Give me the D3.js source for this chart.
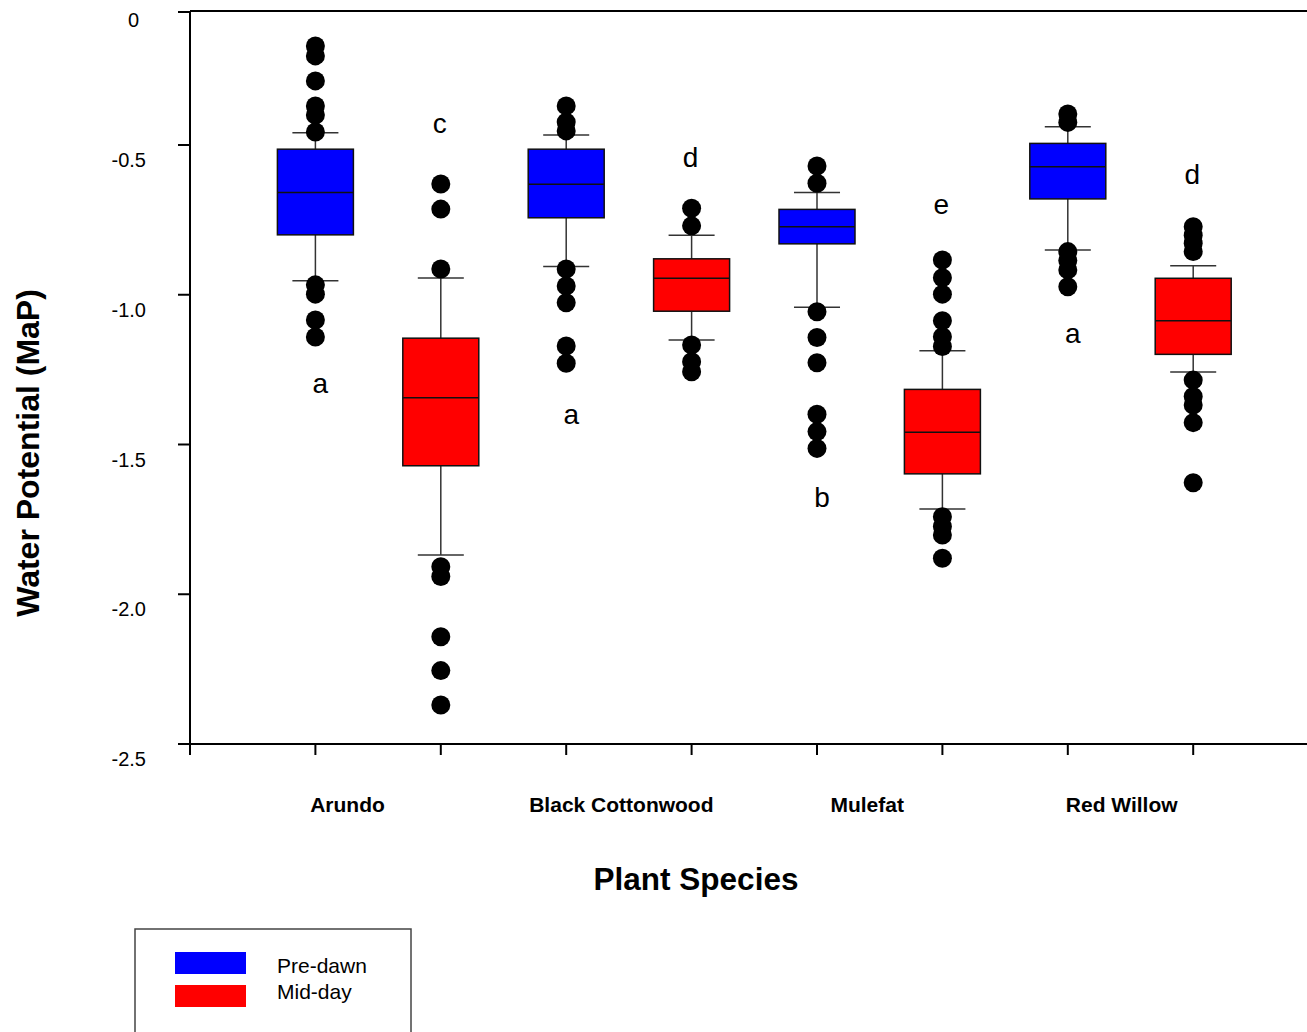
<!DOCTYPE html>
<html>
<head>
<meta charset="utf-8">
<script src="https://cdn.jsdelivr.net/npm/d3@7"></script>
<style>
  html, body { margin: 0; padding: 0; background: #fff; }
  svg { display: block; font-family: "Liberation Sans", Arial, sans-serif; }
</style>
</head>
<body>
<svg id="chart" width="1307" height="1032"></svg>
<script>
// Plant species and sampling periods
const species = ["Arundo", "Black Cottonwood", "Mulefat", "Red Willow"];
const periods = ["Pre-dawn", "Mid-day"];
const periodColors = ["#0000ff", "#ff0000"];

// Box statistics, one entry per box: species x period (pre-dawn, mid-day)
const upperWhisker = [-0.454, -0.944, -0.462, -0.801, -0.659, -1.187, -0.431, -0.903];
const q3Values     = [-0.514, -1.145, -0.514, -0.880, -0.715, -1.316, -0.494, -0.945];
const medianValues = [-0.659, -1.344, -0.631, -0.945, -0.773, -1.459, -0.573, -1.087];
const q1Values     = [-0.800, -1.571, -0.743, -1.055, -0.830, -1.598, -0.680, -1.199];
const lowerWhisker = [-0.953, -1.869, -0.906, -1.151, -1.042, -1.715, -0.851, -1.258];

// Outlying observations per box
const outliers = [
  [-0.128, -0.165, -0.259, -0.353, -0.387, -0.451, -0.967, -0.998, -1.084, -1.141],
  [-0.630, -0.714, -0.914, -1.908, -1.941, -2.142, -2.255, -2.370],
  [-0.353, -0.414, -0.447, -0.914, -0.971, -1.027, -1.171, -1.229],
  [-0.711, -0.770, -1.168, -1.224, -1.257],
  [-0.570, -0.628, -1.057, -1.143, -1.227, -1.399, -1.457, -1.513],
  [-0.884, -0.943, -0.998, -1.087, -1.140, -1.173, -1.741, -1.774, -1.802, -1.880],
  [-0.383, -0.415, -0.856, -0.886, -0.917, -0.973],
  [-0.773, -0.801, -0.828, -0.856, -1.285, -1.340, -1.368, -1.427, -1.628]
];

// Significance letters and the value each one sits at
const groupLetters = ["a", "c", "a", "d", "b", "e", "a", "d"];
const letterValues = [-1.328, -0.455, -1.432, -0.573, -1.709, -0.730, -1.161, -0.630];

// Axis ticks
const yTicks = [0, -0.5, -1.0, -1.5, -2.0, -2.5];
const yTickLabels = ["0", "-0.5", "-1.0", "-1.5", "-2.0", "-2.5"];
const xTicks = [0, 1, 2, 3, 4, 5, 6, 7, 8];
const speciesLabelPos = [1.256, 3.44, 5.40, 7.43];

const svg = d3.select("#chart");

// Scales: one x unit per box, y in MPa (top segment of the axis is compressed)
const x = d3.scaleLinear().domain([0, 9]).range([190, 1318.6]);
const y = d3.scaleLinear().domain([0, -0.5, -2.5]).range([12, 145, 744]);

const boxW = x(0.606) - x(0);
const capW = x(0.367) - x(0);

const boxes = d3.range(8).map(i => ({
  pos: i + 1,
  color: periodColors[i % 2],
  lo: lowerWhisker[i], q1: q1Values[i], med: medianValues[i],
  q3: q3Values[i], hi: upperWhisker[i], out: outliers[i],
  letter: groupLetters[i], letterY: letterValues[i]
}));

// Whiskers
const g = svg.append("g");
boxes.forEach(b => {
  const cx = x(b.pos);
  const wg = g.append("g").attr("stroke", "#333").attr("stroke-width", 1.5);
  wg.append("line").attr("x1", cx).attr("x2", cx).attr("y1", y(b.hi)).attr("y2", y(b.q3));
  wg.append("line").attr("x1", cx).attr("x2", cx).attr("y1", y(b.q1)).attr("y2", y(b.lo));
  wg.append("line").attr("x1", cx - capW / 2).attr("x2", cx + capW / 2).attr("y1", y(b.hi)).attr("y2", y(b.hi));
  wg.append("line").attr("x1", cx - capW / 2).attr("x2", cx + capW / 2).attr("y1", y(b.lo)).attr("y2", y(b.lo));
});

// Boxes with median lines
g.selectAll("rect.box").data(boxes).join("rect")
  .attr("class", "box")
  .attr("x", d => x(d.pos) - boxW / 2)
  .attr("y", d => y(d.q3))
  .attr("width", boxW)
  .attr("height", d => y(d.q1) - y(d.q3))
  .attr("fill", d => d.color)
  .attr("stroke", "#111")
  .attr("stroke-width", 1.5);

g.selectAll("line.median").data(boxes).join("line")
  .attr("class", "median")
  .attr("x1", d => x(d.pos) - boxW / 2)
  .attr("x2", d => x(d.pos) + boxW / 2)
  .attr("y1", d => y(d.med))
  .attr("y2", d => y(d.med))
  .attr("stroke", "#111")
  .attr("stroke-width", 1.5);

// Outlier dots
const dots = boxes.flatMap(b => b.out.map(v => ({ pos: b.pos, v })));
g.selectAll("circle").data(dots).join("circle")
  .attr("cx", d => x(d.pos))
  .attr("cy", d => y(d.v))
  .attr("r", 9.5)
  .attr("fill", "#000");

// Group letters
g.selectAll("text.letter").data(boxes).join("text")
  .attr("class", "letter")
  .attr("x", d => x(d.pos) + (d.pos % 2 === 1 ? 5 : -1))
  .attr("y", d => y(d.letterY))
  .attr("text-anchor", "middle")
  .attr("font-size", 28)
  .attr("fill", "#000")
  .text(d => d.letter);

// Frame: left axis, top border, bottom axis
const axisG = svg.append("g").attr("stroke", "#000").attr("stroke-width", 2).attr("fill", "none");
axisG.append("line").attr("x1", x(0)).attr("x2", x(0)).attr("y1", y(0) - 1).attr("y2", y(-2.5));
axisG.append("line").attr("x1", x(0)).attr("x2", x(9)).attr("y1", y(0) - 1).attr("y2", y(0) - 1);
axisG.append("line").attr("x1", x(0) - 12).attr("x2", x(9)).attr("y1", y(-2.5)).attr("y2", y(-2.5));

// Y ticks and labels
axisG.selectAll("line.ytick").data(yTicks).join("line")
  .attr("class", "ytick")
  .attr("x1", x(0) - 12).attr("x2", x(0))
  .attr("y1", d => y(d)).attr("y2", d => y(d));

svg.append("g").selectAll("text").data(yTicks).join("text")
  .attr("x", d => d === 0 ? 139 : 146)
  .attr("y", d => y(d) + (d === 0 ? 8 : 15))
  .attr("dy", "0.35em")
  .attr("text-anchor", "end")
  .attr("font-size", 20)
  .attr("fill", "#000")
  .text((d, i) => yTickLabels[i]);

// X ticks
axisG.selectAll("line.xtick").data(xTicks).join("line")
  .attr("class", "xtick")
  .attr("x1", d => x(d)).attr("x2", d => x(d))
  .attr("y1", y(-2.5)).attr("y2", y(-2.5) + 11);

// Species labels
svg.append("g").selectAll("text").data(species).join("text")
  .attr("x", (d, i) => x(speciesLabelPos[i]))
  .attr("y", 812)
  .attr("text-anchor", "middle")
  .attr("font-size", 21)
  .attr("font-weight", "bold")
  .attr("fill", "#000")
  .text(d => d);

// Axis titles
svg.append("text")
  .attr("x", 696).attr("y", 890)
  .attr("text-anchor", "middle")
  .attr("font-size", 31.5)
  .attr("font-weight", "bold")
  .text("Plant Species");

svg.append("text")
  .attr("transform", "translate(39,453) rotate(-90)")
  .attr("text-anchor", "middle")
  .attr("font-size", 32)
  .attr("font-weight", "bold")
  .text("Water Potential (MaP)");

// Legend
const leg = svg.append("g");
leg.append("rect")
  .attr("x", 135).attr("y", 929).attr("width", 276).attr("height", 120)
  .attr("fill", "none").attr("stroke", "#444").attr("stroke-width", 1.5);
periods.forEach((p, i) => {
  leg.append("rect")
    .attr("x", 175).attr("y", 952 + i * 33).attr("width", 71).attr("height", 22)
    .attr("fill", periodColors[i]);
  leg.append("text")
    .attr("x", 277).attr("y", 973 + i * 26)
    .attr("font-size", 21)
    .attr("fill", "#000")
    .text(p);
});
</script>
</body>
</html>
